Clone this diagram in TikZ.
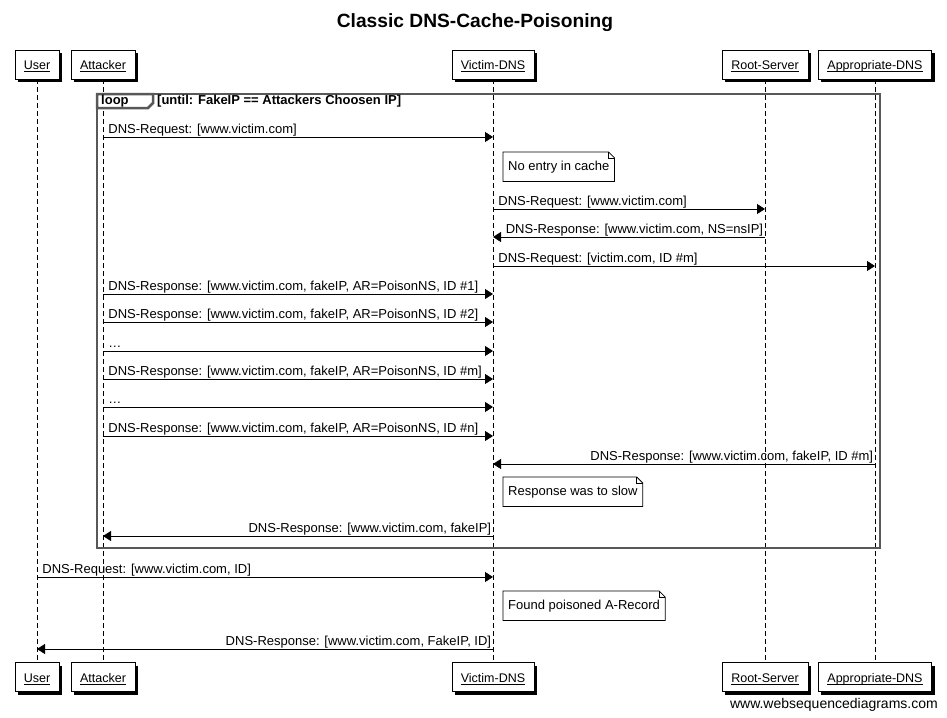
\documentclass[tikz,border=0pt]{standalone}
\usepackage{fontspec}
\setmainfont{Liberation Sans}
\usetikzlibrary{arrows.meta,shadows}

\tikzset{
  actor/.style={draw, fill=white, minimum height=29pt, inner xsep=9pt,
    text height=11pt, text depth=0pt,
    font=\fontsize{12.5}{14}\selectfont,
    drop shadow={shadow xshift=3pt, shadow yshift=-3pt, fill=black, opacity=1}},
  lifeline/.style={dash pattern=on 5pt off 3pt, line width=0.8pt},
  msg/.style={-{Triangle[length=8pt,width=10pt]}, line width=0.8pt},
  lblr/.style={font=\fontsize{13}{15}\selectfont, inner sep=0pt, pos=0, anchor=base west, xshift=5pt, yshift=3.5pt},
  lbll/.style={font=\fontsize{13}{15}\selectfont, inner sep=0pt, pos=0, anchor=base east, xshift=-1.5pt, yshift=3.5pt},
  notebox/.style={anchor=north west, fill=white, minimum height=29pt, inner xsep=5pt,
    font=\fontsize{13}{15}\selectfont},
  frame/.style={draw={rgb,255:red,88;green,88;blue,88}, line width=2.5pt},
}

% underline at the baseline, descenders ignored
\newcommand{\uname}[1]{\underline{\raisebox{0pt}[\height][0pt]{#1}}}

% note with folded corner
\newcommand{\dognote}[3]{%
  \node[notebox] (#1) at (#2) {#3};
  \draw[line width=0.8pt] (#1.south west) -- (#1.north west) -- ([xshift=-6pt]#1.north east)
    -- ([yshift=-6pt]#1.north east) -- (#1.south east) -- cycle;
  \draw[line width=0.6pt] ([xshift=-6pt]#1.north east) -- ([xshift=-6pt,yshift=-6pt]#1.north east)
    -- ([yshift=-6pt]#1.north east);
}

\begin{document}
\begin{tikzpicture}[x=1pt,y=-1pt]
  \useasboundingbox[fill=white] (0,0) rectangle (947,717);

  % Titel
  \node[font=\bfseries\fontsize{19.2}{22}\selectfont] (title) at (475,23) {Classic DNS-Cache-Poisoning};

  % Teilnehmer
  \node[actor] (uT) at (37,64.5) {\uname{User}};
  \node[actor] (aT) at (103,64.5) {\uname{Attacker}};
  \node[actor] (vT) at (493,64.5) {\uname{Victim-DNS}};
  \node[actor] (rT) at (765,64.5) {\uname{Root-Server}};
  \node[actor] (pT) at (875,64.5) {\uname{Appropriate-DNS}};
  \node[actor] (uB) at (37,677) {\uname{User}};
  \node[actor] (aB) at (103,677) {\uname{Attacker}};
  \node[actor] (vB) at (493,677) {\uname{Victim-DNS}};
  \node[actor] (rB) at (765,677) {\uname{Root-Server}};
  \node[actor] (pB) at (875,677) {\uname{Appropriate-DNS}};

  % Lebenslinien
  \foreach \p in {u,a,v,r,p}
    \draw[lifeline] (\p T.south) -- (\p B.north);

  % Schleife
  \draw[frame] (97,94) rectangle (880,548);
  \draw[frame, fill=white] (97,94) -- (153,94) -- (153,103) -- (148,108) -- (97,108) -- cycle;
  \node[anchor=west, inner sep=0pt, font=\bfseries\fontsize{13}{15}\selectfont] (looptag) at (101,101.5) {loop};
  \node[anchor=west, inner sep=0pt, font=\bfseries\fontsize{13}{15}\selectfont] (loopcond) at (157,101.5) {[until: FakeIP == Attackers Choosen IP]};

  % Nachrichten
  \draw[msg] (aT |- 0,137) -- (vT |- 0,137) node[lblr] {DNS-Request: [www.victim.com]};
  \dognote{n1}{503,152}{No entry in cache}
  \draw[msg] (vT |- 0,209) -- (rT |- 0,209) node[lblr] {DNS-Request: [www.victim.com]};
  \draw[msg] (rT |- 0,237) -- (vT |- 0,237) node[lbll] {DNS-Response: [www.victim.com, NS=nsIP]};
  \draw[msg] (vT |- 0,266) -- (pT |- 0,266) node[lblr] {DNS-Request: [victim.com, ID \#m]};
  \foreach \y/\txt in {294/{DNS-Response: [www.victim.com, fakeIP, AR=PoisonNS, ID \#1]},
                       322/{DNS-Response: [www.victim.com, fakeIP, AR=PoisonNS, ID \#2]},
                       351/{\dots},
                       379/{DNS-Response: [www.victim.com, fakeIP, AR=PoisonNS, ID \#m]},
                       407/{\dots},
                       436/{DNS-Response: [www.victim.com, fakeIP, AR=PoisonNS, ID \#n]}}
    \draw[msg] (aT |- 0,\y) -- (vT |- 0,\y) node[lblr] {\txt};
  \draw[msg] (pT |- 0,464) -- (vT |- 0,464) node[lbll] {DNS-Response: [www.victim.com, fakeIP, ID \#m]};
  \dognote{n2}{503,477}{Response was to slow}
  \draw[msg] (vT |- 0,536) -- (aT |- 0,536) node[lbll] {DNS-Response: [www.victim.com, fakeIP]};

  \draw[msg] (uT |- 0,577) -- (vT |- 0,577) node[lblr] {DNS-Request: [www.victim.com, ID]};
  \dognote{n3}{503,591}{Found poisoned A-Record}
  \draw[msg] (vT |- 0,649) -- (uT |- 0,649) node[lbll] {DNS-Response: [www.victim.com, FakeIP, ID]};

  \node[anchor=base east, inner sep=0pt, font=\fontsize{14}{16}\selectfont] (wsd) at (938,708) {www.websequencediagrams.com};
\end{tikzpicture}
\end{document}
